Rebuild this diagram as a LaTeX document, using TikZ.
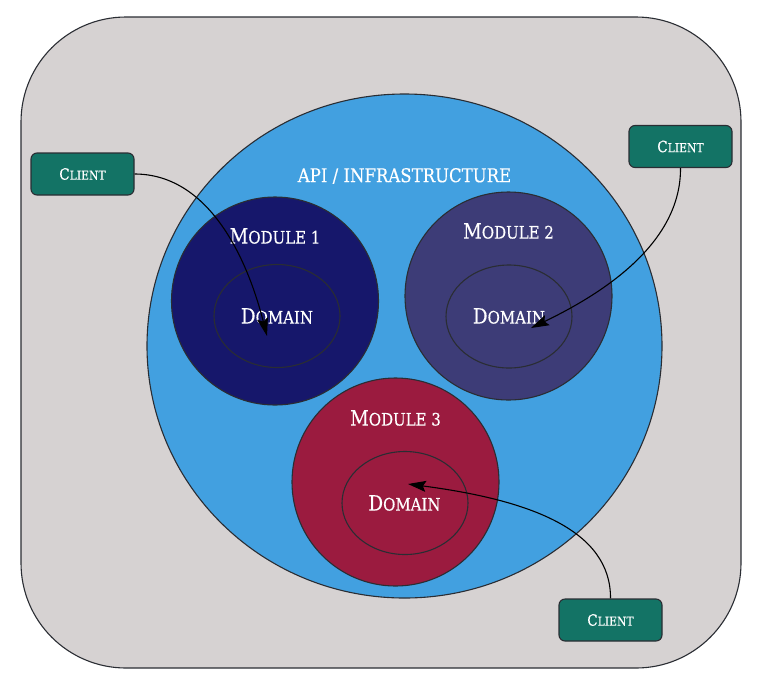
\documentclass[tikz,border=0pt]{standalone}
\usepackage{fontspec}
\setmainfont{DejaVu Serif}[FakeBold=0.35,FakeStretch=0.87]
\usetikzlibrary{arrows.meta,shapes.geometric}
\definecolor{bggray}{HTML}{D6D2D2}
\definecolor{apiblue}{HTML}{42A0E0}
\definecolor{navym}{HTML}{16176B}
\definecolor{purplem}{HTML}{3D3C77}
\definecolor{crimsonm}{HTML}{9B1B3F}
\definecolor{tealc}{HTML}{137365}
\definecolor{edge}{HTML}{2A2D33}
\newcommand{\capsmall}[2]{{\fontsize{21}{21}\selectfont #1}{\fontsize{17.2}{17.2}\selectfont #2}}
\newcommand{\capclient}[2]{{\fontsize{15.5}{15.5}\selectfont #1}{\fontsize{12.4}{12.4}\selectfont #2}}
\tikzset{
  x=1pt,y=-1pt,
  outline/.style={draw=edge,line width=1.1pt},
  modulecircle/.style={outline,ellipse,minimum width=207pt,minimum height=208pt,inner sep=0pt},
  domainring/.style={outline,ellipse,minimum width=126pt,minimum height=103pt,inner sep=0pt},
  clientbox/.style={outline,fill=tealc,rounded corners=6pt,minimum width=103pt,minimum height=42pt,inner sep=0pt,text=white},
  caption/.style={text=white,inner sep=0pt},
  flow/.style={draw=black,line width=1.1pt,-{Stealth[length=18pt,width=11pt,inset=3pt]}},
}
\begin{document}
\begin{tikzpicture}
\useasboundingbox (0,0) rectangle (768,681);
\fill[white] (0,0) rectangle (768,681);
\node[outline,fill=bggray,rounded corners=105pt,minimum width=720pt,minimum height=651pt,inner sep=0pt] (outer) at (381,342.5) {};
\node[outline,fill=apiblue,ellipse,minimum width=515pt,minimum height=504pt,inner sep=0pt] (api) at (404.5,346) {};
\node[modulecircle,fill=navym] (m1) at (275,301) {};
\node[modulecircle,fill=purplem] (m2) at (508.5,296) {};
\node[modulecircle,fill=crimsonm] (m3) at (395.5,482) {};
\node[domainring] (d1) at (277,316) {};
\node[domainring] (d2) at (509,316.5) {};
\node[domainring] (d3) at (405,503) {};
\node[caption] (tapi) at (404.5,176) {\fontsize{19}{19}\selectfont API / INFRASTRUCTURE};
\node[caption] (t1) at (275,236) {\capsmall{M}{ODULE 1}};
\node[caption] (t2) at (508.5,231) {\capsmall{M}{ODULE 2}};
\node[caption] (t3) at (395.5,418) {\capsmall{M}{ODULE 3}};
\node[caption] (td1) at (277,316) {\capsmall{D}{OMAIN}};
\node[caption] (td2) at (509,316) {\capsmall{D}{OMAIN}};
\node[caption] (td3) at (404.5,503) {\capsmall{D}{OMAIN}};
\node[clientbox] (c1) at (82.5,174) {\capclient{C}{LIENT}};
\node[clientbox] (c2) at (680.5,146.5) {\capclient{C}{LIENT}};
\node[clientbox] (c3) at (610.5,620) {\capclient{C}{LIENT}};
\coordinate (e1) at (267,336);
\coordinate (e2) at (531,328);
\coordinate (e3) at (408,484);
\draw[flow] (c1.east) .. controls (205,174) and (245,250) .. (e1);
\draw[flow] (c2.south) .. controls (681,240) and (610,290) .. (e2);
\draw[flow] (c3.north) .. controls (611,530) and (530,500) .. (e3);
\end{tikzpicture}
\end{document}
